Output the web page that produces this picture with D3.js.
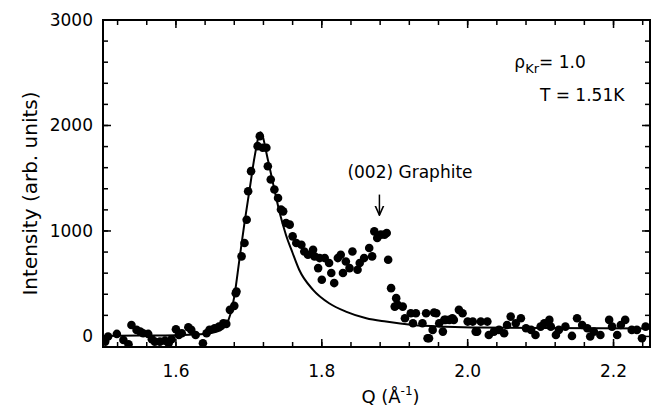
<!DOCTYPE html>
<html lang="en">
<head>
    <meta charset="UTF-8">
    <title>Kr on graphite scan</title>
    <style>
        body {
            margin: 0;
            padding: 0;
            background-color: #fff;
        }

        svg {
            display: block;
            font-family: "DejaVu Sans", "Liberation Sans", sans-serif;
        }

        .frame {
            fill: none;
            stroke: #000;
            stroke-width: 2;
        }

        .tick-mark {
            stroke: #000;
            stroke-width: 1.5;
        }

        .tick-label {
            font-size: 17px;
            fill: #000;
        }

        .fit {
            fill: none;
            stroke: #000;
            stroke-width: 2;
        }

        .dot {
            fill: #000;
        }
    </style>
</head>
<body>

<svg width="656" height="414" id="graph"></svg>

<script src="https://d3js.org/d3.v7.min.js"></script>
<script>
    // measured points, Q in 1/Angstrom
    const dataQ = [
        1.503, 1.507, 1.519, 1.528, 1.535, 1.539, 1.546, 1.551, 1.555, 1.562,
        1.567, 1.571, 1.578, 1.585, 1.590, 1.594, 1.600, 1.604, 1.608, 1.617,
        1.621, 1.627, 1.637, 1.642, 1.646, 1.653, 1.659, 1.665, 1.669, 1.674,
        1.680, 1.682, 1.683, 1.690, 1.694, 1.697, 1.699, 1.703, 1.712, 1.715,
        1.719, 1.724, 1.726, 1.730, 1.735, 1.740, 1.744, 1.747, 1.751, 1.756,
        1.760, 1.765, 1.772, 1.776, 1.781, 1.788, 1.790, 1.795, 1.797, 1.800,
        1.804, 1.810, 1.813, 1.817, 1.822, 1.826, 1.829, 1.833, 1.838, 1.842,
        1.849, 1.852, 1.858, 1.865, 1.869, 1.872, 1.876, 1.881, 1.886, 1.889,
        1.891, 1.895, 1.900, 1.902, 1.904, 1.911, 1.914, 1.922, 1.925, 1.929,
        1.938, 1.943, 1.945, 1.947, 1.952, 1.954, 1.957, 1.961, 1.966, 1.968,
        1.970, 1.975, 1.979, 1.981, 1.988, 1.993, 2.000, 2.007, 2.011, 2.013,
        2.018, 2.027, 2.029, 2.036, 2.043, 2.050, 2.054, 2.059, 2.066, 2.073,
        2.080, 2.087, 2.093, 2.100, 2.105, 2.112, 2.114, 2.121, 2.125, 2.134,
        2.143, 2.150, 2.157, 2.164, 2.168, 2.173, 2.182, 2.194, 2.198, 2.205,
        2.210, 2.216, 2.225, 2.232, 2.239, 2.244
    ];
    const dataI = [
        -49, 0, 24, -33, -75, 109, 62, 46, 30, 24,
        -27, -49, -49, -40, -65, -27, 68, 14, 30, 87,
        62, 14, -65, 30, 62, 78, 93, 125, 119, 252,
        290, 410, 426, 759, 886, 1107, 1376, 1567, 1804, 1899,
        1789, 1789, 1614, 1488, 1393, 1313, 1203, 1186, 1076, 1060,
        949, 886, 870, 806, 775, 822, 759, 648, 743, 537,
        743, 696, 601, 506, 743, 775, 601, 711, 648, 806,
        632, 696, 743, 838, 759, 996, 933, 965, 965, 981,
        727, 458, 283, 363, 299, 283, 173, 220, 125, 220,
        125, 220, -17, -17, 62, 226, 220, 125, 46, 157,
        157, 157, 173, 157, 252, 220, 141, 141, 46, 46,
        141, 141, 14, 46, 62, 30, 109, 188, 125, 173,
        78, 62, 14, 93, 125, 157, 93, 14, 62, 93,
        5, 173, 109, 78, 0, 46, 14, 157, 93, 14,
        109, 157, 62, 62, -17, 93
    ];

    // fitted line shape
    const fitQ = [
        1.500, 1.550, 1.600, 1.630, 1.646, 1.660, 1.669, 1.680, 1.687, 1.694,
        1.701, 1.708, 1.716, 1.726, 1.733, 1.742, 1.751, 1.760, 1.769, 1.788,
        1.810, 1.833, 1.861, 1.888, 1.925, 1.970, 2.016, 2.100, 2.250
    ];
    const fitI = [
        5, 8, 12, 20, 30, 55, 110, 378, 727, 1076,
        1393, 1709, 1935, 1678, 1456, 1180, 960, 791, 632, 442,
        315, 236, 173, 141, 109, 93, 84, 80, 75
    ];

    const xMajor = [1.6, 1.8, 2.0, 2.2];
    const yMajor = [0, 1000, 2000, 3000];

    const svg = d3.select("#graph");
    const margin = { top: 20, right: 6, bottom: 67, left: 103 };
    const width = 656 - margin.left - margin.right;
    const height = 414 - margin.top - margin.bottom;

    const x = d3.scaleLinear().domain([1.5, 2.25]).range([0, width]);
    const y = d3.scaleLinear().domain([-100, 3000]).range([height, 0]);

    const g = svg.append("g")
        .attr("transform", `translate(${margin.left},${margin.top})`);

    // clip so dots near the frame don't spill out
    const defs = svg.append("defs");
    defs.append("clipPath").attr("id", "plotClip")
        .append("rect").attr("width", width).attr("height", height);

    const xMinor = d3.range(1.52, 2.245, 0.04);
    const yMinor = d3.range(200, 3000, 200);

    // tick marks, pointing inward on all four sides
    function xTicks(vals, len) {
        vals.forEach(v => {
            g.append("line").attr("class", "tick-mark")
                .attr("x1", x(v)).attr("x2", x(v))
                .attr("y1", height).attr("y2", height - len);
            g.append("line").attr("class", "tick-mark")
                .attr("x1", x(v)).attr("x2", x(v))
                .attr("y1", 0).attr("y2", len);
        });
    }
    function yTicks(vals, len) {
        vals.forEach(v => {
            g.append("line").attr("class", "tick-mark")
                .attr("x1", 0).attr("x2", len)
                .attr("y1", y(v)).attr("y2", y(v));
            g.append("line").attr("class", "tick-mark")
                .attr("x1", width).attr("x2", width - len)
                .attr("y1", y(v)).attr("y2", y(v));
        });
    }
    xTicks(xMinor, 5);
    xTicks(xMajor, 8);
    yTicks(yMinor, 5);
    yTicks(yMajor, 8);

    g.selectAll(".xlab")
        .data(xMajor)
        .enter().append("text")
        .attr("class", "tick-label")
        .attr("x", d => x(d))
        .attr("y", height + 30)
        .attr("text-anchor", "middle")
        .text(d => d3.format(".1f")(d));

    g.selectAll(".ylab")
        .data(yMajor)
        .enter().append("text")
        .attr("class", "tick-label")
        .attr("x", -10)
        .attr("y", d => y(d) + 6)
        .attr("text-anchor", "end")
        .text(d => d);

    const plot = g.append("g").attr("clip-path", "url(#plotClip)");

    const fitData = fitQ.map((q, i) => ({ q: q, v: fitI[i] }));
    plot.append("path")
        .datum(fitData)
        .attr("class", "fit")
        .attr("d", d3.line()
            .x(d => x(d.q))
            .y(d => y(d.v))
            .curve(d3.curveMonotoneX));

    const pts = dataQ.map((q, i) => ({ q: q, v: dataI[i] }));
    plot.selectAll(".dot")
        .data(pts)
        .enter().append("circle")
        .attr("class", "dot")
        .attr("cx", d => x(d.q))
        .attr("cy", d => y(d.v))
        .attr("r", 4.3);

    g.append("rect")
        .attr("class", "frame")
        .attr("width", width)
        .attr("height", height);

    // axis titles
    const xt = g.append("text")
        .attr("x", width / 2 + 14)
        .attr("y", height + 56)
        .attr("text-anchor", "middle")
        .style("font-size", "18px");
    xt.append("tspan").text("Q (Å");
    xt.append("tspan").attr("dy", -8).style("font-size", "12px").text("-1");
    xt.append("tspan").attr("dy", 8).text(")");

    g.append("text")
        .attr("transform", `translate(-66,${height / 2 + 10}) rotate(-90)`)
        .attr("text-anchor", "middle")
        .style("font-size", "20px")
        .text("Intensity (arb. units)");

    // annotations
    const rho = g.append("text")
        .attr("x", x(2.064))
        .attr("y", y(2545))
        .style("font-size", "17px");
    rho.append("tspan").text("ρ");
    rho.append("tspan").attr("dy", 5).style("font-size", "13px").text("Kr");
    rho.append("tspan").attr("dy", -5).text("= 1.0");

    g.append("text")
        .attr("x", x(2.245) - 22)
        .attr("y", y(2230))
        .attr("text-anchor", "end")
        .style("font-size", "17px")
        .text("T = 1.51K");

    g.append("text")
        .attr("x", x(1.879) - 32)
        .attr("y", y(1500))
        .attr("text-anchor", "start")
        .style("font-size", "17px")
        .text("(002) Graphite");

    defs.append("marker")
        .attr("id", "arrowHead")
        .attr("viewBox", "0 0 10 10")
        .attr("refX", 9).attr("refY", 5)
        .attr("markerWidth", 7).attr("markerHeight", 7)
        .attr("orient", "auto")
        .append("path")
        .attr("d", "M0,1 L9,5 L0,9")
        .attr("fill", "none")
        .attr("stroke", "#000")
        .attr("stroke-width", 1.5);

    g.append("line")
        .attr("x1", x(1.879)).attr("x2", x(1.879))
        .attr("y1", y(1345)).attr("y2", y(1150))
        .attr("stroke", "#000")
        .attr("stroke-width", 1.5)
        .attr("marker-end", "url(#arrowHead)");
</script>
</body>
</html>
